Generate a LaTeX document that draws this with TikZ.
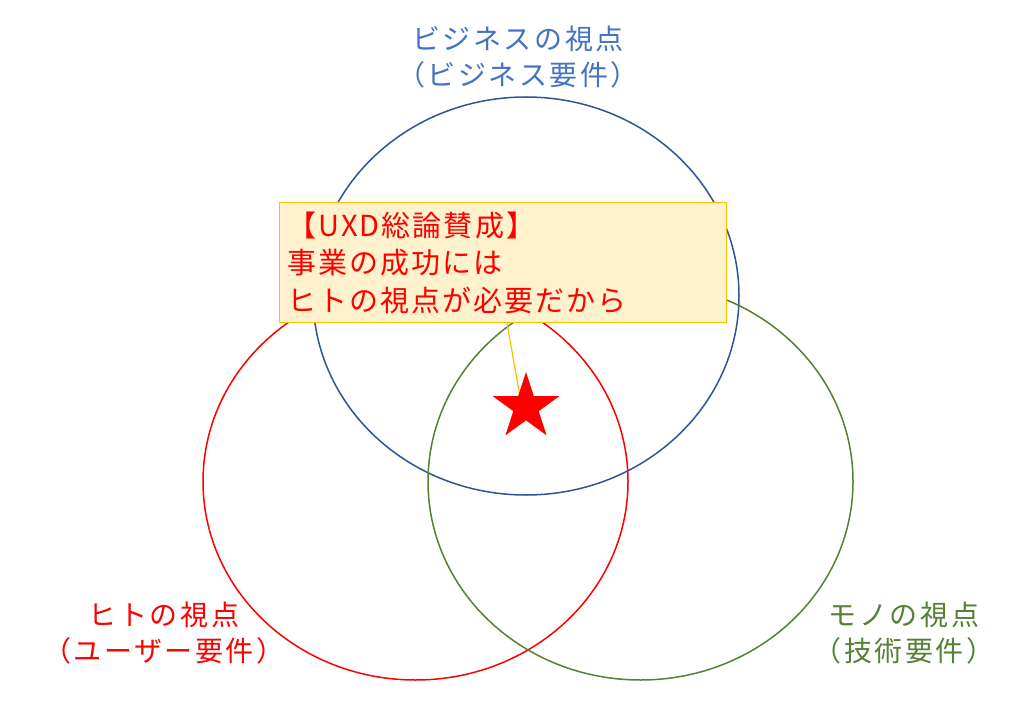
\documentclass[tikz,border=0pt]{standalone}
\usepackage{fontspec}
\setmainfont{Noto Sans CJK JP}[LetterSpace=9]
\newfontfamily\boxfont{Noto Sans CJK JP}[LetterSpace=7]
\usetikzlibrary{shapes.geometric}
\definecolor{bizblue}{HTML}{4472C4}
\definecolor{bizcircle}{HTML}{2F5597}
\definecolor{hitored}{HTML}{FF0000}
\definecolor{monogreen}{HTML}{548235}
\definecolor{boxfill}{HTML}{FFF2CC}
\definecolor{boxline}{HTML}{FFC000}
\begin{document}
\begin{tikzpicture}[x=1pt,y=-1pt,
  ring/.style={line width=1.5pt},
  label/.style={font=\fontsize{28}{36}\selectfont, align=center, inner sep=0pt},
  callout/.style={draw=boxline, fill=boxfill, line width=1.3pt, font=\boxfont\fontsize{29}{37.5}\selectfont,
     text=hitored, align=left, anchor=north west, minimum width=447pt, minimum height=120pt,
     text width=431pt, inner xsep=8pt, inner ysep=0pt},
  starmark/.style={star, star points=5, star point ratio=2.618, minimum size=70pt, fill=hitored, inner sep=0pt}]
\useasboundingbox (0,0) rectangle (1024,708);
\fill[white] (0,0) rectangle (1024,708);
% circles
\draw[ring, bizcircle] (526,296) ellipse [x radius=213, y radius=199];
\draw[ring, hitored] (415.5,481.5) ellipse [x radius=212.5, y radius=198.5];
\draw[ring, monogreen] (640.5,481.5) ellipse [x radius=212.5, y radius=198.5];
% labels
\node[label, text=bizblue] (biz) at (518,57.5) {ビジネスの視点\\（ビジネス要件）};
\node[label, text=hitored] (hito) at (164,633.5) {ヒトの視点\\（ユーザー要件）};
\node[label, text=monogreen] (mono) at (904,633.5) {モノの視点\\（技術要件）};
% callout
\node[callout] (box) at (279,202) {【UXD総論賛成】\\事業の成功には\\ヒトの視点が必要だから};
\coordinate (tip) at (520,397);
\draw[boxline, line width=1.2pt] ([xshift=228pt]box.south west) -- (tip);
\node[starmark] (star) at (526,407) {};
\end{tikzpicture}
\end{document}
